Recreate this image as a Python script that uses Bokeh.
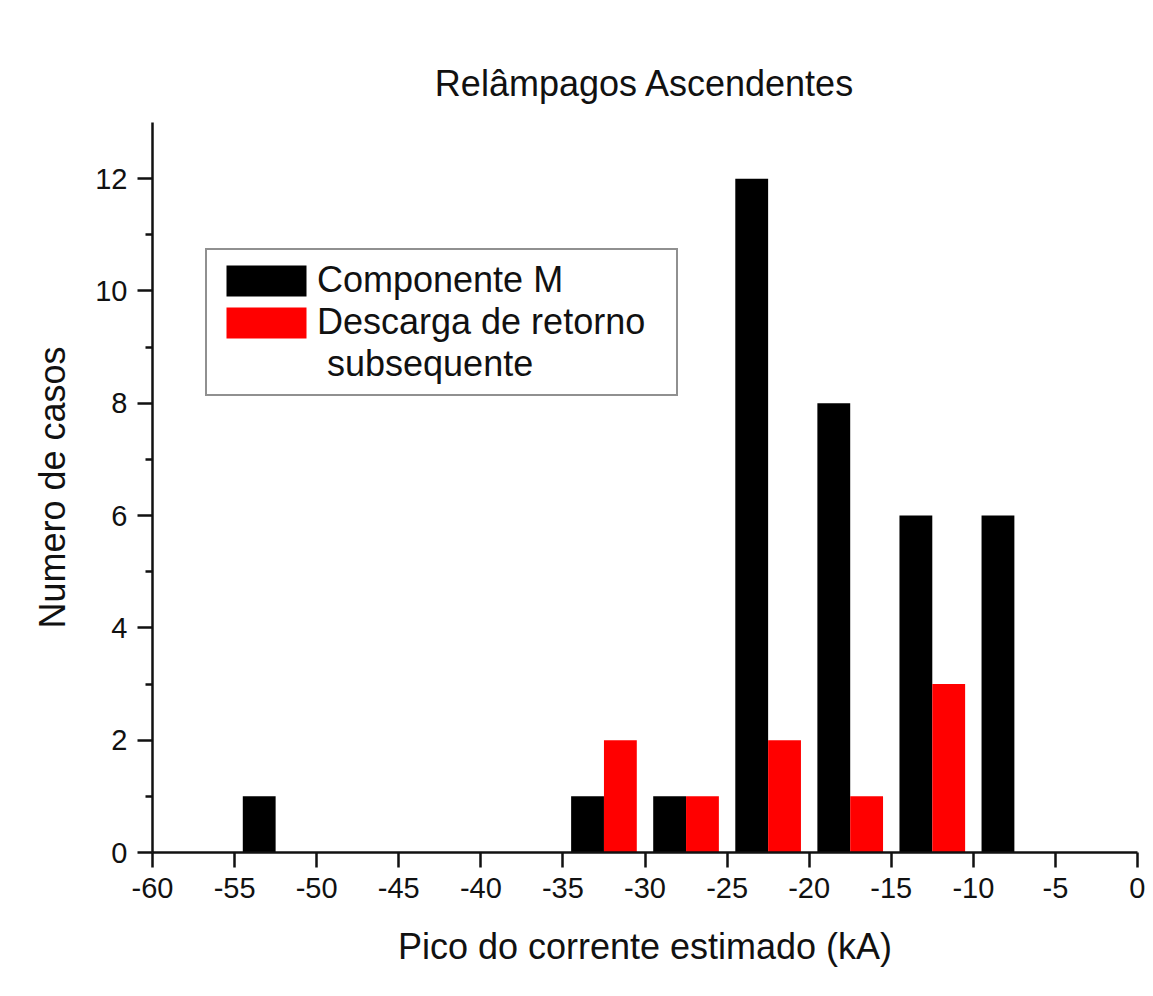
from bokeh.plotting import figure
from bokeh.models import ColumnDataSource, Range1d, FixedTicker, Legend, LegendItem
from bokeh.transform import dodge
from bokeh.embed import file_html
from bokeh.resources import INLINE

# ---- data ----
bin_centers = [-57.5, -52.5, -47.5, -42.5, -37.5, -32.5, -27.5, -22.5, -17.5, -12.5, -7.5, -2.5]
componente_m = [0, 1, 0, 0, 0, 1, 1, 12, 8, 6, 6, 0]
descarga_subsequente = [0, 0, 0, 0, 0, 2, 1, 2, 1, 3, 0, 0]
x_ticks = [-60, -55, -50, -45, -40, -35, -30, -25, -20, -15, -10, -5, 0]
x_tick_labels = ["-60", "-55", "-50", "-45", "-40", "-35", "-30", "-25", "-20", "-15", "-10", "-5", "0"]
y_ticks = [0, 2, 4, 6, 8, 10, 12]
y_minor_ticks = [1, 3, 5, 7, 9, 11]

title_text = "Relâmpagos Ascendentes"
x_label = "Pico do corrente estimado (kA)"
y_label = "Numero de casos"
label_m = "Componente M"
label_d1 = "Descarga de retorno"
label_d2 = " subsequente"

FONT = "Liberation Sans"

src = ColumnDataSource(dict(x=bin_centers, m=componente_m, d=descarga_subsequente))

p = figure(width=1145, height=988, output_backend="svg", toolbar_location=None,
           x_range=Range1d(-60, 0), y_range=Range1d(0, 13),
           min_border_left=152, min_border_right=8, min_border_top=122, min_border_bottom=136,
           background_fill_color="white", border_fill_color="white")
p.outline_line_color = None
p.grid.visible = False

p.title.text = title_text
p.title.align = "center"
p.title.text_font = FONT
p.title.text_font_size = "36px"
p.title.text_font_style = "normal"
p.title.text_color = "#111111"
p.title.standoff = 38

r_m = p.vbar(x=dodge("x", -1.0, range=p.x_range), top="m", width=2.0, source=src,
             fill_color="black", line_color=None)
r_d = p.vbar(x=dodge("x", 1.0, range=p.x_range), top="d", width=2.0, source=src,
             fill_color="#ff0000", line_color=None)
r_blank = p.vbar(x=dodge("x", 1.0, range=p.x_range), top="d", width=2.0, source=src,
                 fill_alpha=0, line_alpha=0)

for ax in (p.xaxis[0], p.yaxis[0]):
    ax.axis_line_width = 2.5
    ax.axis_line_color = "#111111"
    ax.major_tick_line_width = 2.5
    ax.minor_tick_line_width = 2.5
    ax.major_tick_line_color = "#111111"
    ax.minor_tick_line_color = "#111111"
    ax.major_tick_in = 0
    ax.major_tick_out = 15
    ax.minor_tick_in = 0
    ax.minor_tick_out = 7
    ax.major_label_text_font = FONT
    ax.major_label_text_font_size = "29px"
    ax.major_label_text_color = "#111111"
    ax.axis_label_text_font = FONT
    ax.axis_label_text_font_size = "36px"
    ax.axis_label_text_font_style = "normal"
    ax.axis_label_text_color = "#111111"
    ax.major_label_standoff = 10

p.xaxis.ticker = FixedTicker(ticks=x_ticks)
p.xaxis.major_label_overrides = {t: s for t, s in zip(x_ticks, x_tick_labels)}
p.xaxis.axis_label = x_label
p.xaxis.axis_label_standoff = 25
p.yaxis.ticker = FixedTicker(ticks=y_ticks, minor_ticks=y_minor_ticks)
p.yaxis.axis_label = y_label
p.yaxis.axis_label_standoff = 19

legend = Legend(items=[LegendItem(label=label_m, renderers=[r_m]),
                       LegendItem(label=label_d1, renderers=[r_d]),
                       LegendItem(label=label_d2, renderers=[r_blank])],
                location=(53, 456), orientation="vertical",
                glyph_width=100, glyph_height=39, label_height=39, label_width=350,
                label_standoff=1, spacing=0, padding=9, margin=0,
                label_text_font=FONT, label_text_font_size="36px", label_text_color="#111111",
                border_line_color="#222222", border_line_width=2,
                background_fill_color="white", background_fill_alpha=1.0)
p.add_layout(legend, "center")

open("out.html", "w").write(file_html(p, INLINE))
